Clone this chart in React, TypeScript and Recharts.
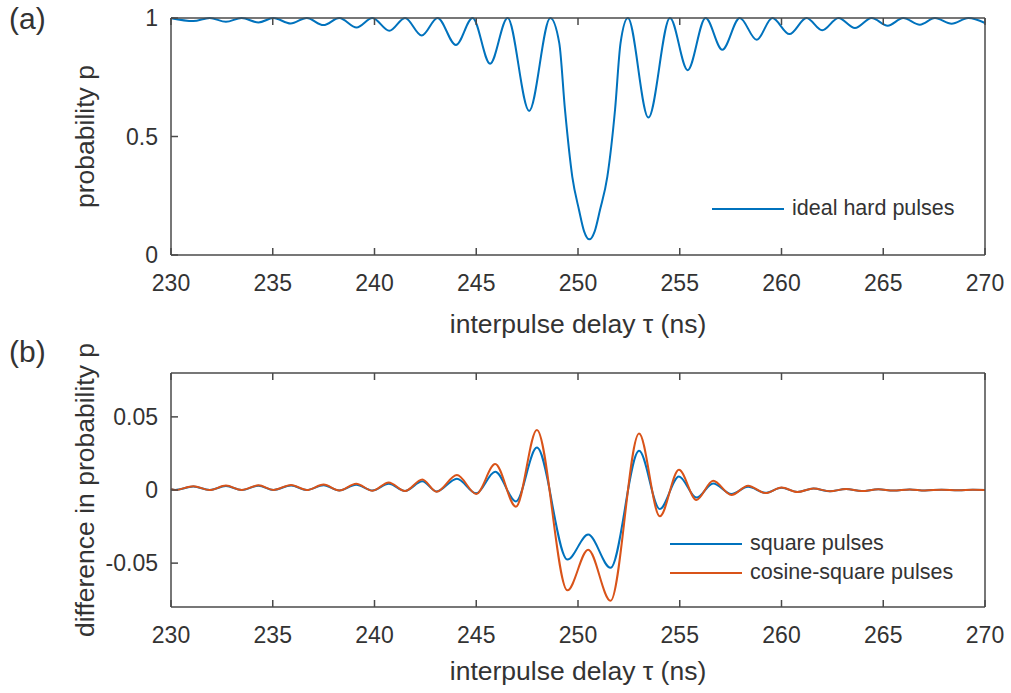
import React from 'react';
import { LineChart, Line, XAxis, YAxis, Legend } from 'recharts';

// panel (a): ideal hard pulses
const TAU_A = [
  230.0, 231.1, 231.9, 232.7, 233.47, 234.3, 235.03, 235.88, 236.67, 237.49, 238.27, 239.12,
  239.9, 240.73, 241.5, 242.32, 243.1, 244.0, 244.82, 245.68, 246.54, 247.6, 248.64, 249.08,
  249.36, 249.72, 250.05, 250.3, 250.56, 250.82, 251.08, 251.44, 251.82, 252.09, 252.45, 253.46,
  254.52, 255.39, 256.27, 257.09, 257.95, 258.78, 259.55, 260.39, 261.23, 262.0, 262.8, 263.61,
  264.43, 265.22, 265.98, 266.8, 267.54, 268.36, 269.18, 270.0,
];
const PROB_A = [
  0.999, 0.987, 1.0, 0.984, 1.0, 0.981, 1.0, 0.977, 1.0, 0.97, 1.0, 0.96,
  1.0, 0.946, 1.0, 0.926, 1.0, 0.886, 1.0, 0.807, 1.0, 0.608, 1.0, 0.894,
  0.613, 0.33, 0.19, 0.1, 0.066, 0.1, 0.19, 0.33, 0.613, 0.894, 1.0, 0.58,
  1.0, 0.78, 1.0, 0.866, 1.0, 0.908, 1.0, 0.932, 1.0, 0.948, 1.0, 0.958,
  1.0, 0.967, 1.0, 0.972, 1.0, 0.976, 1.0, 0.979,
];

// panel (b): difference in probability
const TAU_B = [
  230.0, 230.2, 231.1, 231.9, 232.7, 233.47, 234.3, 235.03, 235.9, 236.67, 237.5, 238.27,
  239.1, 239.9, 240.7, 241.5, 242.35, 243.05, 244.05, 245.0, 245.93, 246.95, 247.98, 249.48,
  250.5, 251.6, 253.0, 254.02, 254.96, 255.82, 256.64, 257.54, 258.36, 259.21, 260.0, 260.78,
  261.57, 262.38, 263.17, 263.94, 264.76, 265.5, 266.3, 267.05, 267.86, 268.7, 269.4, 270.0,
];
const SQUARE_B = [
  0.0006, 0, 0.0024, 0, 0.0027, 0, 0.0029, 0, 0.003, 0, 0.0033, -0.0003,
  0.0036, -0.0004, 0.0043, -0.0006, 0.0059, -0.001, 0.0077, -0.0023, 0.0125, -0.0078, 0.029, -0.0476,
  -0.0305, -0.0532, 0.0268, -0.013, 0.0093, -0.0052, 0.0045, -0.0027, 0.0022, -0.0019, 0.0015, -0.0013,
  0.001, -0.0009, 0.0007, -0.0007, 0.0005, -0.0004, 0.0004, -0.0003, 0.0002, -0.0002, 0.0001, 0,
];
const COSSQ_B = [
  0.0006, 0, 0.0026, 0, 0.003, 0, 0.0032, 0, 0.0035, 0, 0.0037, -0.0003,
  0.0043, -0.0005, 0.0052, -0.0007, 0.0072, -0.0012, 0.0102, -0.0027, 0.0177, -0.0114, 0.0411, -0.0686,
  -0.0408, -0.0758, 0.0386, -0.018, 0.0138, -0.0068, 0.0063, -0.0034, 0.0029, -0.0021, 0.0017, -0.0014,
  0.0011, -0.0009, 0.0007, -0.0007, 0.0005, -0.0004, 0.0004, -0.0003, 0.0002, -0.0002, 0.0001, 0,
];

const X_TICKS = [230, 235, 240, 245, 250, 255, 260, 265, 270];
const Y_TICKS_A = [0, 0.5, 1];
const Y_TICKS_B = [-0.05, 0, 0.05];

const BLUE = '#0072BD';
const ORANGE = '#D95319';
const AXIS = '#4a4a4a';
const TEXT = '#333333';
const FONT = '"Liberation Sans", Arial, Helvetica, sans-serif';
const TICK_FONT = 23;
const LABEL_FONT = 26.5;
const TICK_LEN = 7;
const X_GAP = 20;
const Y_GAP = 13;

const rowsA = TAU_A.map((t, i) => ({ tau: t, p: PROB_A[i] }));
const rowsB = TAU_B.map((t, i) => ({ tau: t, sq: SQUARE_B[i], cs: COSSQ_B[i] }));

const BottomTick = (props: any) => {
  const { x, y, payload } = props;
  const ay = y - X_GAP;
  return (
    <g>
      <line x1={x} x2={x} y1={ay} y2={ay - TICK_LEN} stroke={AXIS} strokeWidth={1.5} />
      <text x={x} y={y} dy="0.71em" textAnchor="middle" fill={TEXT} fontSize={TICK_FONT} fontFamily={FONT}>
        {payload.value}
      </text>
    </g>
  );
};

const TopTick = (props: any) => {
  const { x, y } = props;
  return <line x1={x} x2={x} y1={y} y2={y + TICK_LEN} stroke={AXIS} strokeWidth={1.5} />;
};

const LeftTick = (props: any) => {
  const { x, y, payload } = props;
  const ax = x + Y_GAP;
  return (
    <g>
      <line x1={ax} x2={ax + TICK_LEN} y1={y} y2={y} stroke={AXIS} strokeWidth={1.5} />
      <text x={x} y={y} dy="0.36em" textAnchor="end" fill={TEXT} fontSize={TICK_FONT} fontFamily={FONT}>
        {String(payload.value)}
      </text>
    </g>
  );
};

const RightTick = (props: any) => {
  const { x, y } = props;
  return <line x1={x} x2={x - TICK_LEN} y1={y} y2={y} stroke={AXIS} strokeWidth={1.5} />;
};

// rotated y-axis title without word wrapping
const yTitle = (value: string) => (props: any) => {
  const vb = props.viewBox || {};
  const cx = (vb.x || 0) + (vb.width || 0) / 2 - 1;
  const cy = (vb.y || 0) + (vb.height || 0) / 2;
  return (
    <text
      x={cx}
      y={cy}
      dy="0.36em"
      transform={`rotate(-90 ${cx} ${cy})`}
      textAnchor="middle"
      fill={TEXT}
      fontSize={LABEL_FONT}
      fontFamily={FONT}
    >
      {value}
    </text>
  );
};

const legendItem = (color: string, name: string) => (
  <div key={name} style={{ display: 'flex', alignItems: 'center', height: 29 }}>
    <span style={{ display: 'inline-block', width: 72, borderTop: `2px solid ${color}`, marginRight: 8 }} />
    <span>{name}</span>
  </div>
);

const LegendA = () => (
  <div style={{ fontFamily: FONT, fontSize: 21.5, color: TEXT, lineHeight: '29px' }}>
    {legendItem(BLUE, 'ideal hard pulses')}
  </div>
);

const LegendB = () => (
  <div style={{ fontFamily: FONT, fontSize: 21.5, color: TEXT, lineHeight: '29px' }}>
    {legendItem(BLUE, 'square pulses')}
    {legendItem(ORANGE, 'cosine-square pulses')}
  </div>
);

const panelLabel: React.CSSProperties = {
  position: 'absolute',
  left: 9,
  fontFamily: FONT,
  fontSize: 30,
  lineHeight: '30px',
  color: TEXT,
};

const axisCommon = {
  axisLine: { stroke: AXIS, strokeWidth: 1.5 },
  tickLine: false,
  tickSize: 0,
  interval: 0 as const,
};

export default function App() {
  return (
    <div style={{ position: 'absolute', left: 0, top: 0, width: 1011, height: 693, background: '#fff' }}>
      <div style={{ position: 'absolute', left: 0, top: 0 }}>
        <LineChart width={1011} height={340} data={rowsA} margin={{ top: 17, right: 25, left: 0, bottom: 0 }}>
          <XAxis
            dataKey="tau"
            type="number"
            domain={[230, 270]}
            ticks={X_TICKS}
            height={85}
            tickMargin={X_GAP}
            tick={BottomTick}
            {...axisCommon}
            label={{ value: 'interpulse delay τ (ns)', position: 'insideBottom', offset: 7, fill: TEXT, fontSize: LABEL_FONT, fontFamily: FONT }}
          />
          <XAxis xAxisId="top" orientation="top" dataKey="tau" type="number" domain={[230, 270]} ticks={X_TICKS} height={1} tickMargin={0} tick={TopTick} {...axisCommon} />
          <YAxis
            type="number"
            domain={[0, 1]}
            ticks={Y_TICKS_A}
            width={171}
            tickMargin={Y_GAP}
            tick={LeftTick}
            {...axisCommon}
            label={{ content: yTitle('probability p') }}
          />
          <YAxis yAxisId="right" orientation="right" type="number" domain={[0, 1]} ticks={Y_TICKS_A} width={1} tickMargin={0} tick={RightTick} {...axisCommon} />
          <Legend content={LegendA} verticalAlign="middle" layout="horizontal" wrapperStyle={{ left: 712, top: 194, width: 300, height: 29 }} />
          <Line type="monotone" dataKey="p" name="ideal hard pulses" stroke={BLUE} strokeWidth={2} dot={false} isAnimationActive={false} />
        </LineChart>
      </div>
      <div style={{ position: 'absolute', left: 0, top: 330 }}>
        <LineChart width={1011} height={363} data={rowsB} margin={{ top: 42, right: 25, left: 0, bottom: 0 }}>
          <XAxis
            dataKey="tau"
            type="number"
            domain={[230, 270]}
            ticks={X_TICKS}
            height={86}
            tickMargin={X_GAP}
            tick={BottomTick}
            {...axisCommon}
            label={{ value: 'interpulse delay τ (ns)', position: 'insideBottom', offset: 13, fill: TEXT, fontSize: LABEL_FONT, fontFamily: FONT }}
          />
          <XAxis xAxisId="top" orientation="top" dataKey="tau" type="number" domain={[230, 270]} ticks={X_TICKS} height={1} tickMargin={0} tick={TopTick} {...axisCommon} />
          <YAxis
            type="number"
            domain={[-0.08, 0.08]}
            ticks={Y_TICKS_B}
            width={171}
            tickMargin={Y_GAP}
            tick={LeftTick}
            {...axisCommon}
            label={{ content: yTitle('difference in probability p') }}
          />
          <YAxis yAxisId="right" orientation="right" type="number" domain={[-0.08, 0.08]} ticks={Y_TICKS_B} width={1} tickMargin={0} tick={RightTick} {...axisCommon} />
          <Legend content={LegendB} verticalAlign="middle" layout="horizontal" wrapperStyle={{ left: 670, top: 199, width: 330, height: 58 }} />
          <Line type="monotone" dataKey="sq" name="square pulses" stroke={BLUE} strokeWidth={2} dot={false} isAnimationActive={false} />
          <Line type="monotone" dataKey="cs" name="cosine-square pulses" stroke={ORANGE} strokeWidth={2} dot={false} isAnimationActive={false} />
        </LineChart>
      </div>
      <div style={{ ...panelLabel, top: 4 }}>(a)</div>
      <div style={{ ...panelLabel, top: 337 }}>(b)</div>
    </div>
  );
}
